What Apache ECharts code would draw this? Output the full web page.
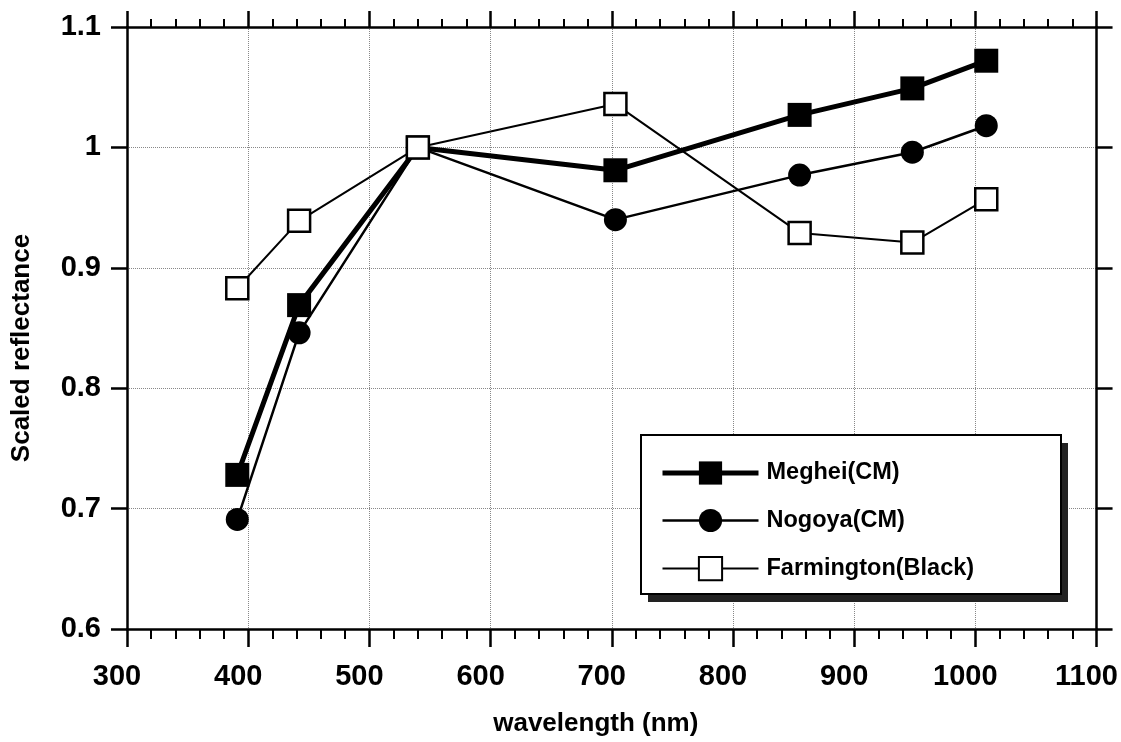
<!DOCTYPE html>
<html>
<head>
<meta charset="utf-8">
<script src="https://cdn.jsdelivr.net/npm/echarts@6/dist/echarts.min.js"></script>
<style>
html,body{margin:0;padding:0;background:#fff;}
#chart{width:1121px;height:742px;}
</style>
</head>
<body>
<div id="chart"></div>
<script>
// ---- data ----
var wavelengths = [391, 442, 540, 703, 855, 948, 1009];
var meghei = [0.728, 0.869, 1.0, 0.981, 1.027, 1.049, 1.072];
var nogoya = [0.691, 0.846, 1.0, 0.940, 0.977, 0.996, 1.018];
var farmington = [0.883, 0.939, 1.0, 1.036, 0.929, 0.921, 0.957];
var seriesNames = ['Meghei(CM)', 'Nogoya(CM)', 'Farmington(Black)'];
var xTickLabels = ['300', '400', '500', '600', '700', '800', '900', '1000', '1100'];
var yTickLabels = ['0.6', '0.7', '0.8', '0.9', '1', '1.1'];

function pairs(ys) { return wavelengths.map(function (w, i) { return [w, ys[i]]; }); }

var FONT = '"Liberation Sans", Arial, sans-serif';
var axisLineStyle = { color: '#000', width: 2.5 };

var chart = echarts.init(document.getElementById('chart'), null, { renderer: 'canvas' });

var option = {
  backgroundColor: '#fff',
  animation: false,
  grid: { left: 127, right: 20.5, top: 27, bottom: 107.5, containLabel: false },
  xAxis: [{
    type: 'value', position: 'bottom', min: 300, max: 1100, interval: 100,
    axisLine: { show: true, lineStyle: axisLineStyle },
    axisTick: { show: true, inside: false, length: 18, lineStyle: { color: '#000', width: 2.5 } },
    minorTick: { show: true, splitNumber: 5, length: 10, lineStyle: { color: '#000', width: 2 } },
    splitLine: { show: true, lineStyle: { type: 'dotted', color: '#888', width: 1 } },
    axisLabel: {
      color: '#000', fontFamily: FONT, fontWeight: 'bold', fontSize: 29, margin: 33,
      padding: [0, 20, 0, 0],
      formatter: function (v) { return xTickLabels[Math.round((v - 300) / 100)]; }
    },
    name: 'wavelength (nm)', nameLocation: 'middle', nameGap: 82,
    nameTextStyle: { color: '#000', fontFamily: FONT, fontWeight: 'bold', fontSize: 26, padding: [0, 32, 0, 0] }
  }, {
    type: 'value', position: 'top', min: 300, max: 1100, interval: 100,
    axisLine: { show: true, lineStyle: axisLineStyle },
    axisTick: { show: true, inside: false, length: 16, lineStyle: { color: '#000', width: 2.5 } },
    minorTick: { show: true, splitNumber: 5, length: 8, lineStyle: { color: '#000', width: 2 } },
    splitLine: { show: false },
    axisLabel: { show: false }
  }],
  yAxis: [{
    type: 'value', position: 'left', min: 0.6, max: 1.1, interval: 0.1,
    axisLine: { show: true, lineStyle: axisLineStyle },
    axisTick: { show: true, inside: false, length: 16, lineStyle: { color: '#000', width: 2.5 } },
    splitLine: { show: true, lineStyle: { type: 'dotted', color: '#888', width: 1 } },
    axisLabel: {
      color: '#000', fontFamily: FONT, fontWeight: 'bold', fontSize: 29, margin: 26,
      formatter: function (v) { return yTickLabels[Math.round((v - 0.6) * 10)]; }
    },
    name: 'Scaled reflectance', nameLocation: 'middle', nameGap: 92, nameRotate: 90,
    nameTextStyle: { color: '#000', fontFamily: FONT, fontWeight: 'bold', fontSize: 26, padding: [0, 40, 0, 0] }
  }, {
    type: 'value', position: 'right', min: 0.6, max: 1.1, interval: 0.1,
    axisLine: { show: true, lineStyle: axisLineStyle },
    axisTick: { show: true, inside: false, length: 16, lineStyle: { color: '#000', width: 2.5 } },
    splitLine: { show: false },
    axisLabel: { show: false }
  }],
  legend: {
    show: true, orient: 'vertical', left: 660, top: 461, padding: 0,
    itemWidth: 96, itemHeight: 29, itemGap: 23.5,
    data: [
      { name: seriesNames[0], lineStyle: { width: 5 } },
      { name: seriesNames[1], lineStyle: { width: 2.5 } },
      { name: seriesNames[2], lineStyle: { width: 2 } }
    ],
    textStyle: { color: '#000', fontFamily: FONT, fontWeight: 'bold', fontSize: 23.5, padding: [0, 0, 0, 3] },
    z: 20
  },
  graphic: [
    { type: 'rect', z: 10, shape: { x: 648, y: 443, width: 420, height: 159 }, style: { fill: '#222' } },
    { type: 'rect', z: 11, shape: { x: 641, y: 435, width: 420, height: 159 }, style: { fill: '#fff', stroke: '#000', lineWidth: 2 } }
  ],
  series: [{
    name: seriesNames[0], type: 'line', data: pairs(meghei),
    symbol: 'rect', symbolSize: 24,
    lineStyle: { color: '#000', width: 5 },
    itemStyle: { color: '#000', borderColor: '#000', borderWidth: 0 },
    z: 2
  }, {
    name: seriesNames[1], type: 'line', data: pairs(nogoya),
    symbol: 'circle', symbolSize: 23,
    lineStyle: { color: '#000', width: 2.5 },
    itemStyle: { color: '#000', borderColor: '#000', borderWidth: 0 },
    z: 3
  }, {
    name: seriesNames[2], type: 'line', data: pairs(farmington),
    symbol: 'rect', symbolSize: 22,
    lineStyle: { color: '#000', width: 2 },
    itemStyle: { color: '#fff', borderColor: '#000', borderWidth: 2.5 },
    z: 4
  }]
};
chart.setOption(option);
</script>
</body>
</html>
